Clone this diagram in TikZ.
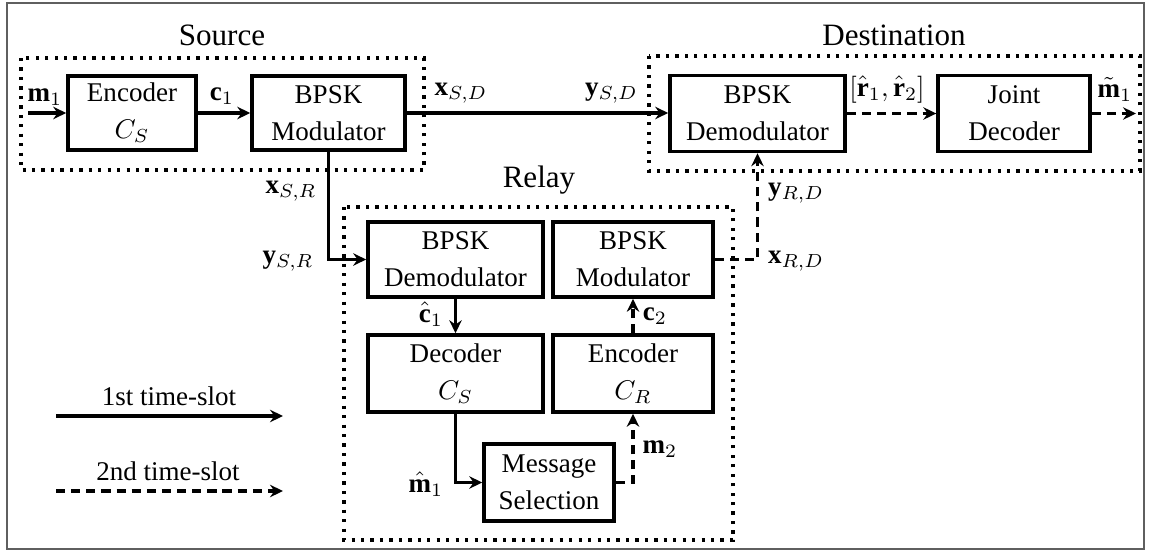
\documentclass[tikz,border=0pt]{standalone}
\usepackage{fontspec}
\setmainfont{Liberation Serif}
\usetikzlibrary{arrows.meta}
\begin{document}
\begin{tikzpicture}[x=0.37pt,y=-0.37pt,
  frame/.style={draw={rgb,255:red,95;green,95;blue,95},line width=0.6pt},
  blk/.style={draw,line width=1.3pt,align=center,inner sep=0pt,
    font=\fontsize{10}{13.7}\selectfont},
  grp/.style={line width=1.3pt,dash pattern=on 1.2pt off 2.3pt},
  sig/.style={line width=1.2pt,-{Stealth[length=4.8pt,width=4.6pt,inset=1.6pt]}},
  sigb/.style={sig,dash pattern=on 3.4pt off 2.2pt},
  lbl/.style={anchor=base,inner sep=0pt,font=\fontsize{10}{12}\selectfont},
  ttl/.style={anchor=base,inner sep=0pt,font=\fontsize{11.5}{14}\selectfont}]

\useasboundingbox (0,0) rectangle (1151,555);
\draw[frame] (7,3) rectangle (1144,549);

% group outlines
\draw[grp] (21,58) rectangle (424,170);
\draw[grp] (649,56) rectangle (1140,171);
\draw[grp] (344,207) rectangle (733,540);

% titles
\node[ttl] (tsrc) at (222,45) {Source};
\node[ttl] (tdst) at (894,45) {Destination};
\node[ttl] (trly) at (539,187) {Relay};

% source blocks
\node[blk,minimum width=47.4pt,minimum height=27.4pt] (enc) at (132,113) {Encoder\\$C_S$};
\node[blk,minimum width=56.6pt,minimum height=27.4pt] (smod) at (328.5,113) {BPSK\\Modulator};

% destination blocks
\node[blk,minimum width=64.8pt,minimum height=28.1pt] (ddemod) at (757.5,113.5) {BPSK\\Demodulator};
\node[blk,minimum width=56.2pt,minimum height=28.1pt] (joint) at (1014,113.5) {Joint\\Decoder};

% relay blocks
\node[blk,minimum width=64.8pt,minimum height=27.8pt] (rdemod) at (455.5,259.5) {BPSK\\Demodulator};
\node[blk,minimum width=59.2pt,minimum height=27.8pt] (rmod) at (633,259.5) {BPSK\\Modulator};
\node[blk,minimum width=64.8pt,minimum height=28.5pt] (dec) at (455.5,373.5) {Decoder\\$C_S$};
\node[blk,minimum width=59.2pt,minimum height=28.5pt] (enc2) at (633,373.5) {Encoder\\$C_R$};
\node[blk,minimum width=48.1pt,minimum height=28.5pt] (msg) at (549,482.5) {Message\\Selection};

% free ends
\coordinate (min) at (28,113);
\coordinate (mout) at (1136,113.5);
\coordinate (l1a) at (56,416);
\coordinate (l1b) at (283,416);
\coordinate (l2a) at (56,491);
\coordinate (l2b) at (283,491);

% first time-slot links
\draw[sig] (min) -- (enc.west);
\draw[sig] (enc.east) -- (smod.west);
\draw[sig] (smod.east) -- (ddemod.west |- smod.east);
\draw[sig] (smod.south) |- (rdemod.west);
\draw[sig] (rdemod.south) -- (dec.north);
\draw[sig] (dec.south) |- (msg.west);

% second time-slot links
\draw[sigb] (msg.east) -| (enc2.south);
\draw[sigb] (enc2.north) -- (rmod.south);
\draw[sigb] (rmod.east) -| (ddemod.south);
\draw[sigb] (ddemod.east) -- (joint.west);
\draw[sigb] (joint.east) -- (mout);

% legend
\draw[sig] (l1a) -- (l1b);
\draw[sigb] (l2a) -- (l2b);
\node[lbl] (leg1) at (169,405) {1st time-slot};
\node[lbl] (leg2) at (168,480) {2nd time-slot};

% signal labels
\node[lbl] (lm1) at (45,101) {$\mathbf{m}_1$};
\node[lbl] (lc1) at (222,100) {$\mathbf{c}_1$};
\node[lbl] (lxsd) at (461,95) {$\mathbf{x}_{S,D}$};
\node[lbl] (lysd) at (611.5,95) {$\mathbf{y}_{S,D}$};
\node[lbl] (lr) at (887,96) {$[\hat{\mathbf{r}}_1,\hat{\mathbf{r}}_2]$};
\node[lbl] (lmt) at (1115,97) {$\tilde{\mathbf{m}}_1$};
\node[lbl] (lxsr) at (291,193) {$\mathbf{x}_{S,R}$};
\node[lbl] (lysr) at (288,263) {$\mathbf{y}_{S,R}$};
\node[lbl] (lc1h) at (431,322) {$\hat{\mathbf{c}}_1$};
\node[lbl] (lc2) at (655,320) {$\mathbf{c}_2$};
\node[lbl] (lyrd) at (796,195) {$\mathbf{y}_{R,D}$};
\node[lbl] (lxrd) at (796,263) {$\mathbf{x}_{R,D}$};
\node[lbl] (lm1h) at (426,492) {$\hat{\mathbf{m}}_1$};
\node[lbl] (lm2) at (660,453) {$\mathbf{m}_2$};
\end{tikzpicture}
\end{document}
